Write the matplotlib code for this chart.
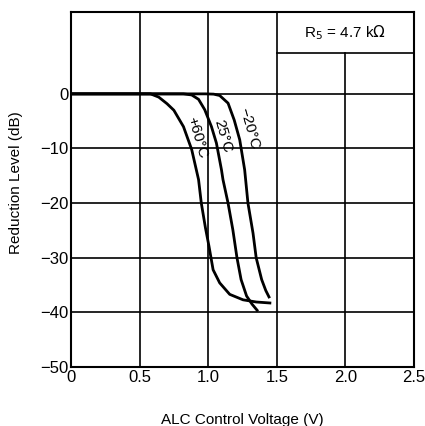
import matplotlib
matplotlib.use("Agg")
import matplotlib.pyplot as plt

plt.rcParams['font.family'] = ['Liberation Sans', 'DejaVu Sans']

# Curves (ALC control voltage V, reduction level dB)
v_p60 = [0.0, 0.58, 0.64, 0.70, 0.75, 0.82, 0.88, 0.93, 0.95, 0.98, 1.006, 1.036, 1.084, 1.157, 1.254, 1.35, 1.46]
db_p60 = [0.0, 0.0, -0.6, -1.8, -3.0, -6.0, -10.2, -15.7, -20.0, -24.5, -27.9, -32.2, -34.6, -36.7, -37.7, -38.1, -38.3]

v_25 = [0.0, 0.82, 0.88, 0.93, 0.975, 1.024, 1.06, 1.097, 1.108, 1.145, 1.18, 1.21, 1.24, 1.28, 1.32, 1.363]
db_25 = [0.0, 0.0, -0.2, -1.0, -2.9, -6.0, -9.0, -13.9, -15.7, -20.0, -24.9, -30.0, -34.0, -37.0, -38.5, -39.8]

v_m20 = [0.0, 0.98, 1.04, 1.084, 1.145, 1.19, 1.23, 1.266, 1.29, 1.327, 1.35, 1.39, 1.42, 1.448]
db_m20 = [0.0, 0.0, -0.05, -0.3, -1.7, -4.8, -8.4, -13.9, -20.0, -25.5, -30.0, -34.0, -36.0, -37.4]

curve_labels = ["+60°C", "25°C", "\u221220°C"]
label_pos_v = [0.92, 1.108, 1.298]
label_pos_db = [-8.0, -7.7, -6.4]

x_ticks = [0, 0.5, 1.0, 1.5, 2.0, 2.5]
x_tick_labels = ["0", "0.5", "1.0", "1.5", "2.0", "2.5"]
y_ticks = [0, -10, -20, -30, -40, -50]
y_tick_labels = ["0", "\u221210", "\u221220", "\u221230", "\u221240", "\u221250"]

fig = plt.figure(figsize=(4.25, 4.26), dpi=100)
ax = fig.add_axes([0.167, 0.1385, 0.807, 0.8335])
ax.set_xlim(0, 2.5)
ax.set_ylim(-50, 15)

gc = 'black'
glw = 1.2
# vertical grid lines
for xv in [0.5, 1.0, 1.5]:
    ax.axvline(xv, color=gc, lw=glw, zorder=1)
ax.plot([2.0, 2.0], [-50, 7.5], color=gc, lw=glw, zorder=1)
# horizontal grid lines
for yv in [0, -10, -20, -30, -40]:
    ax.axhline(yv, color=gc, lw=glw, zorder=1)
ax.plot([1.5, 2.5], [7.5, 7.5], color=gc, lw=glw, zorder=1)

for s in ax.spines.values():
    s.set_linewidth(1.5)

clw = 2.0
ax.plot(v_p60, db_p60, color='black', lw=clw, zorder=3, solid_capstyle='butt')
ax.plot(v_25, db_25, color='black', lw=clw, zorder=3, solid_capstyle='butt')
ax.plot(v_m20, db_m20, color='black', lw=clw, zorder=3, solid_capstyle='butt')

for lab, lv, ld in zip(curve_labels, label_pos_v, label_pos_db):
    ax.text(lv, ld, lab, rotation=-74, ha='center', va='center', fontsize=11,
            color='black', zorder=4, rotation_mode='anchor')

ax.text(2.0, 11.2, r"R$_5$ = 4.7 k$\Omega$", ha='center', va='center', fontsize=11)

ax.set_xticks(x_ticks)
ax.set_xticklabels(x_tick_labels, fontsize=12)
ax.set_yticks(y_ticks)
ax.set_yticklabels(y_tick_labels, fontsize=12)
ax.tick_params(length=0, pad=2)

ax.set_xlabel("ALC Control Voltage (V)", fontsize=11, labelpad=20)
ax.set_ylabel("Reduction Level (dB)", fontsize=11)
ax.yaxis.set_label_coords(-0.14, 0.52)

fig.savefig("out.png", dpi=100)
